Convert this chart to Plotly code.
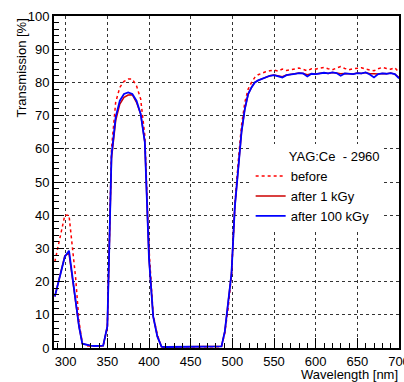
import plotly.graph_objects as go

wavelength = [287, 291, 295, 299, 304, 308, 312, 316, 320, 325, 330, 335, 340, 345,
              350, 355, 360, 365, 370, 375, 380, 385, 390, 395, 400, 405, 410, 415,
              420, 430, 440, 450, 460, 470, 480, 487, 491, 495, 499, 503, 507, 511,
              515, 519, 523, 527, 531, 535, 540, 545, 550, 555, 560, 565, 570, 575,
              580, 585, 590, 595, 600, 605, 610, 615, 620, 625, 630, 635, 640, 645,
              650, 655, 660, 665, 670, 675, 680, 685, 690, 695, 700]

before = [26, 31, 35, 40, 40, 31, 21, 8, 1.5, 0.6, 0.5, 0.5, 0.5, 0.6,
          6, 60, 74, 78.5, 80.3, 81, 81, 79, 75, 64, 30, 10, 4, 0.3,
          0.3, 0.3, 0.3, 0.3, 0.3, 0.3, 0.3, 0.4, 4.5, 12, 22, 43, 56, 67,
          74, 78, 80, 81.5, 82.3, 82.8, 83.2, 83.5, 83.7, 83.4, 84, 83.6, 83.8, 84.2,
          84.3, 83.9, 83.5, 84.1, 84, 84.3, 84.5, 84.1, 83.8, 84.3, 84.8, 84.2, 83.8, 84.1,
          84.2, 84.4, 84, 83.7, 83.5, 84.1, 84.5, 84.2, 84, 84.4, 83]

after_1kGy = [15.5, 19.5, 23.5, 27.8, 28.5, 21.3, 14, 6.5, 1.3, 0.9, 0.7, 0.6, 0.6, 0.7,
              6.5, 57, 68.5, 73.5, 75.5, 76.2, 76.3, 74, 70.5, 62, 27, 9.5, 3.5, 0.4,
              0.3, 0.3, 0.3, 0.3, 0.3, 0.3, 0.3, 0.5, 5, 13, 22.5, 42.5, 54, 65,
              72, 76.5, 78.5, 80, 80.6, 81, 81.5, 82, 82.2, 81.9, 81.7, 82.2, 82.5, 82.6,
              82.8, 82.7, 82.3, 82.6, 82.5, 82.7, 82.9, 82.7, 83, 82.8, 82.6, 82.7, 82.6, 82.5,
              82.8, 82.7, 83, 82.6, 82.6, 82.5, 82.7, 82.6, 82.8, 82.5, 81.5]

after_100kGy = [15.5, 19.5, 23.5, 27.5, 29.3, 21.5, 14, 6.5, 1.3, 0.9, 0.7, 0.6, 0.6, 0.7,
                6.5, 58, 69.5, 74.5, 76.5, 77, 76.5, 74.5, 70.5, 62, 27, 9.5, 3.5, 0.4,
                0.3, 0.3, 0.3, 0.3, 0.3, 0.3, 0.3, 0.5, 5, 13, 22.5, 42.5, 54, 65,
                72, 76.5, 78.5, 80, 80.6, 81, 81.5, 82, 82.2, 81.8, 81.5, 82.2, 82.5, 82.6,
                82.8, 82.7, 81.8, 82.6, 82.5, 82.7, 82.9, 82.7, 83, 82.8, 82, 82.7, 82.6, 82.5,
                82.8, 82.7, 83, 82.4, 81.5, 82.5, 82.7, 82.6, 82.8, 82.5, 81.2]

series_names = ["before", "after 1 kGy", "after 100 kGy"]
legend_header = "YAG:Ce\u00a0\u00a0- 2960"

FONT = "Liberation Sans, Arial, Helvetica, sans-serif"

fig = go.Figure()
fig.add_trace(go.Scatter(x=wavelength, y=before, mode="lines", name=series_names[0],
                         line=dict(color="#ff0000", width=1.5, dash="dot")))
fig.add_trace(go.Scatter(x=wavelength, y=after_1kGy, mode="lines", name=series_names[1],
                         line=dict(color="#cc0000", width=1.5)))
fig.add_trace(go.Scatter(x=wavelength, y=after_100kGy, mode="lines", name=series_names[2],
                         line=dict(color="#0000ff", width=1.8)))

axis_common = dict(
    showline=True, linecolor="black", linewidth=2, mirror=True,
    ticks="inside", tickcolor="black", ticklen=10, tickwidth=1,
    showgrid=True, gridcolor="#333333", gridwidth=1, griddash="dot",
    zeroline=False, ticklabeloverflow="allow", automargin=False,
    tickfont=dict(family=FONT, size=13, color="black"),
)

fig.update_xaxes(range=[286, 700], tick0=300, dtick=50,
                 minor=dict(ticks="inside", ticklen=5, dtick=10, tick0=300,
                            tickcolor="black", showgrid=False),
                 **axis_common)
fig.update_yaxes(range=[0, 100], tick0=0, dtick=10,
                 minor=dict(ticks="inside", ticklen=5, dtick=2, tick0=0,
                            tickcolor="black", showgrid=False),
                 ticklabelstandoff=0,
                 **axis_common)

fig.update_layout(
    width=404, height=382,
    margin=dict(l=54, r=5, t=16, b=34),
    plot_bgcolor="white", paper_bgcolor="white",
    font=dict(family=FONT, size=13, color="black"),
    showlegend=True,
    legend=dict(
        x=0.57, y=0.614, xanchor="left", yanchor="top",
        bgcolor="white", borderwidth=0,
        font=dict(family=FONT, size=13, color="black"),
        title=dict(text="\u00a0" * 10 + legend_header,
                   font=dict(family=FONT, size=13, color="black")),
        tracegroupgap=0,
    ),
    annotations=[
        dict(text="Transmission [%]", textangle=-90, xref="paper", yref="paper",
             x=-0.093, y=1.0, xanchor="center", yanchor="top", showarrow=False,
             font=dict(family=FONT, size=13, color="black")),
        dict(text="Wavelength [nm]", xref="paper", yref="paper",
             x=1.004, y=-0.081, xanchor="right", yanchor="middle", showarrow=False,
             font=dict(family=FONT, size=13, color="black")),
    ],
)

fig.write_html("out.html")
